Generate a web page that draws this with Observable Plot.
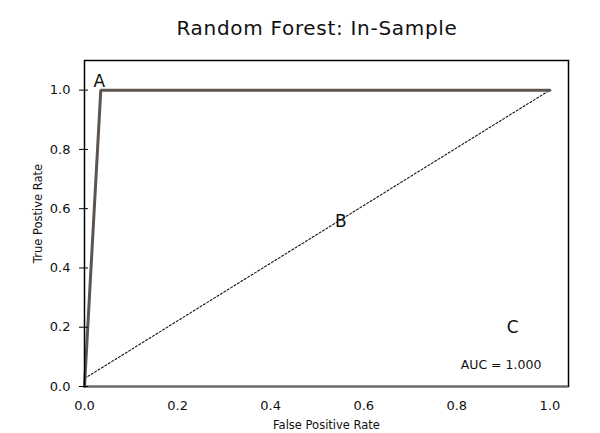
<!DOCTYPE html>
<html>
<head>
<meta charset="utf-8">
<script src="https://cdn.jsdelivr.net/npm/d3@7"></script>
<script src="https://cdn.jsdelivr.net/npm/@observablehq/plot@0.6"></script>
<style>
  html, body { margin: 0; padding: 0; background: #fff; }
  #wrap { position: relative; width: 600px; height: 433px; font-family: "DejaVu Sans", Verdana, sans-serif; }
  #title { position: absolute; left: 0; top: 16px; width: 634px; text-align: center; font-size: 20px; letter-spacing: 0.7px; color: #111; }
  #chart svg { display: block; }
</style>
</head>
<body>
<div id="wrap">
  <div id="chart"></div>
  <div id="title">Random Forest: In-Sample</div>
</div>
<script>
// ROC curve (in-sample)
const rocFpr = [0, 0.035, 1.0];
const rocTpr = [0, 1.0, 1.0];
// reference diagonal
const diagFpr = [0, 1.0];
const diagTpr = [0.027, 1.0];
// tick values
const xTicks = [0, 0.2, 0.4, 0.6, 0.8, 1.0];
const yTicks = [0, 0.2, 0.4, 0.6, 0.8, 1.0];
// annotations
const annLabels = ["A", "B", "C"];
const annX = [0.032, 0.551, 0.92];
const annY = [1.03, 0.557, 0.2];
const aucText = "AUC = 1.000";
const aucX = 0.895;
const aucY = 0.074;

const roc = rocFpr.map((x, i) => ({x, y: rocTpr[i]}));
const diag = diagFpr.map((x, i) => ({x, y: diagTpr[i]}));
const ann = annLabels.map((t, i) => ({t, x: annX[i], y: annY[i]}));

const chart = Plot.plot({
  width: 600,
  height: 433,
  marginLeft: 84,
  marginRight: 32,
  marginTop: 60,
  marginBottom: 47,
  style: {fontFamily: "'DejaVu Sans', Verdana, sans-serif", background: "#fff", color: "#111"},
  x: {domain: [0, 1.04]},
  y: {domain: [0, 1.1]},
  marks: [
    Plot.line(diag, {x: "x", y: "y", stroke: "#111", strokeWidth: 1.1, strokeDasharray: "2,2"}),
    Plot.line(roc, {x: "x", y: "y", stroke: "#5d544d", strokeWidth: 3, strokeLinejoin: "miter"}),
    Plot.frame({stroke: "#000", strokeWidth: 1.5}),
    Plot.ruleY([0], {stroke: "#666", strokeWidth: 2}),
    Plot.axisY(yTicks, {tickSize: 9, tickPadding: 9, dx: 4, tickFormat: d3.format(".1f"), fontSize: 13, label: null, stroke: "#000"}),
    Plot.axisX(xTicks, {tickSize: 0, tickPadding: 14, tickFormat: d3.format(".1f"), fontSize: 13, label: null}),
    Plot.text(["False Positive Rate"], {frameAnchor: "bottom", lineAnchor: "middle", dy: 39, fontSize: 11.5, letterSpacing: 0.3}),
    Plot.text(["True Postive Rate"], {frameAnchor: "left", textAnchor: "middle", lineAnchor: "middle", dx: -46, dy: -10, rotate: -90, fontSize: 11.5, letterSpacing: 0.3}),
    Plot.text(ann, {x: "x", y: "y", text: "t", fontSize: 17}),
    Plot.text([aucText], {x: () => aucX, y: () => aucY, fontSize: 12.5, letterSpacing: 0.3})
  ]
});
document.getElementById("chart").appendChild(chart);
</script>
</body>
</html>
